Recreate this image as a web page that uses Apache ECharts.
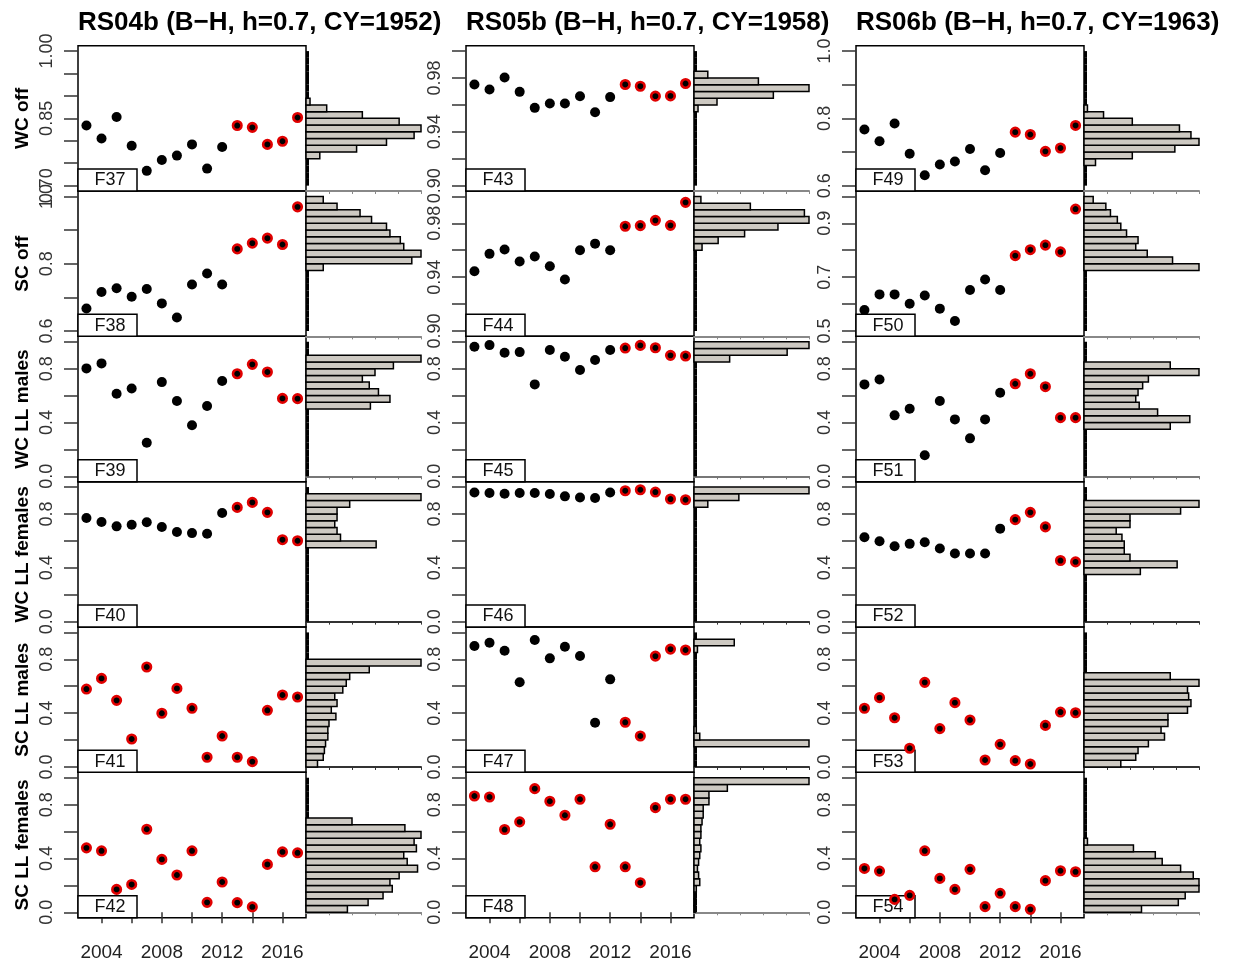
<!DOCTYPE html>
<html>
<head>
<meta charset="utf-8">
<script src="https://cdn.jsdelivr.net/npm/echarts@6/dist/echarts.min.js"></script>
<style>
html, body { margin: 0; padding: 0; background: #fff; }
#main { width: 1238px; height: 968px; }
</style>
</head>
<body>
<div id="main"></div>
<script>
// x values shared by every panel
var years = [2003, 2004, 2005, 2006, 2007, 2008, 2009, 2010, 2011, 2012, 2013, 2014, 2015, 2016, 2017];

var stockTitles = ['RS04b (B\u2212H, h=0.7, CY=1952)', 'RS05b (B\u2212H, h=0.7, CY=1958)', 'RS06b (B\u2212H, h=0.7, CY=1963)'];
var rowNames = ['WC off', 'SC off', 'WC LL males', 'WC LL females', 'SC LL males', 'SC LL females'];
var panelIds = [
  ['F37', 'F38', 'F39', 'F40', 'F41', 'F42'],
  ['F43', 'F44', 'F45', 'F46', 'F47', 'F48'],
  ['F49', 'F50', 'F51', 'F52', 'F53', 'F54']
];

// yearly values (dots)
var F37 = [0.834, 0.805, 0.853, 0.789, 0.733, 0.757, 0.767, 0.792, 0.738, 0.786, 0.834, 0.830, 0.792, 0.799, 0.852];
var F38 = [0.667, 0.716, 0.727, 0.702, 0.725, 0.682, 0.640, 0.738, 0.771, 0.738, 0.844, 0.861, 0.876, 0.857, 0.969];
var F39 = [0.802, 0.839, 0.614, 0.653, 0.250, 0.700, 0.559, 0.379, 0.522, 0.708, 0.762, 0.832, 0.775, 0.579, 0.577];
var F40 = [0.770, 0.740, 0.708, 0.720, 0.738, 0.703, 0.666, 0.658, 0.653, 0.807, 0.849, 0.886, 0.812, 0.609, 0.601];
var F41 = [0.579, 0.658, 0.495, 0.208, 0.743, 0.399, 0.584, 0.436, 0.072, 0.230, 0.072, 0.040, 0.421, 0.535, 0.520];
var F42 = [0.479, 0.457, 0.170, 0.207, 0.617, 0.393, 0.277, 0.457, 0.074, 0.225, 0.072, 0.040, 0.356, 0.449, 0.442];
var F43 = [0.9752, 0.9715, 0.9804, 0.9697, 0.9578, 0.9610, 0.9610, 0.9665, 0.9546, 0.9658, 0.9752, 0.9739, 0.9665, 0.9667, 0.9759];
var F44 = [0.9444, 0.9573, 0.9605, 0.9516, 0.9553, 0.9481, 0.9383, 0.9600, 0.9649, 0.9600, 0.9778, 0.9783, 0.9822, 0.9785, 0.9956];
var F45 = [0.963, 0.975, 0.918, 0.923, 0.683, 0.938, 0.889, 0.790, 0.864, 0.938, 0.953, 0.973, 0.955, 0.899, 0.894];
var F46 = [0.960, 0.956, 0.951, 0.956, 0.956, 0.948, 0.931, 0.923, 0.919, 0.960, 0.973, 0.980, 0.963, 0.911, 0.906];
var F47 = [0.899, 0.923, 0.864, 0.629, 0.943, 0.807, 0.894, 0.824, 0.329, 0.651, 0.332, 0.230, 0.824, 0.876, 0.869];
var F48 = [0.864, 0.857, 0.615, 0.672, 0.919, 0.825, 0.721, 0.840, 0.338, 0.654, 0.338, 0.220, 0.778, 0.840, 0.840];
var F49 = [0.767, 0.732, 0.785, 0.695, 0.631, 0.663, 0.672, 0.709, 0.646, 0.697, 0.759, 0.752, 0.702, 0.712, 0.779];
var F50 = [0.578, 0.636, 0.636, 0.601, 0.632, 0.583, 0.537, 0.652, 0.691, 0.652, 0.780, 0.802, 0.819, 0.794, 0.953];
var F51 = [0.683, 0.720, 0.453, 0.502, 0.156, 0.559, 0.423, 0.282, 0.423, 0.621, 0.688, 0.762, 0.666, 0.436, 0.436];
var F52 = [0.627, 0.598, 0.560, 0.578, 0.590, 0.543, 0.506, 0.506, 0.506, 0.691, 0.758, 0.812, 0.704, 0.454, 0.444];
var F53 = [0.436, 0.515, 0.366, 0.139, 0.629, 0.285, 0.478, 0.349, 0.052, 0.168, 0.047, 0.022, 0.309, 0.408, 0.403];
var F54 = [0.326, 0.306, 0.096, 0.126, 0.457, 0.252, 0.170, 0.319, 0.042, 0.141, 0.042, 0.022, 0.235, 0.309, 0.301];

// first year drawn with a red ring, per column and row
var redFrom = [
  [2013, 2013, 2013, 2013, 2003, 2003],
  [2013, 2013, 2013, 2013, 2013, 2003],
  [2013, 2013, 2013, 2013, 2003, 2003]
];

// side histograms: 20 bins over the panel's y limits, bottom bin first, longest bar = 1
var H37 = [0, 0, 0, 0, 0.12, 0.44, 0.70, 0.94, 1.00, 0.81, 0.49, 0.18, 0.035, 0, 0, 0, 0, 0, 0, 0];
var H38 = [0, 0, 0, 0, 0, 0, 0, 0, 0, 0.15, 0.92, 1.00, 0.85, 0.82, 0.73, 0.70, 0.57, 0.47, 0.27, 0.15];
var H39 = [0, 0, 0, 0, 0, 0, 0, 0, 0, 0, 0.56, 0.73, 0.63, 0.55, 0.49, 0.60, 0.76, 1.00, 0, 0];
var H40 = [0, 0, 0, 0, 0, 0, 0, 0, 0, 0, 0, 0.61, 0.30, 0.27, 0.25, 0.27, 0.27, 0.38, 1.00, 0];
var H41 = [0.10, 0.15, 0.16, 0.17, 0.19, 0.19, 0.20, 0.26, 0.22, 0.27, 0.25, 0.32, 0.35, 0.38, 0.55, 1.00, 0, 0, 0, 0];
var H42 = [0.36, 0.54, 0.67, 0.75, 0.73, 0.81, 0.97, 0.88, 0.85, 0.96, 0.94, 1.00, 0.86, 0.40, 0, 0, 0, 0, 0, 0];
var H43 = [0, 0, 0, 0, 0, 0, 0, 0, 0, 0, 0, 0.035, 0.20, 0.69, 1.00, 0.56, 0.12, 0, 0, 0];
var H44 = [0, 0, 0, 0, 0, 0, 0, 0, 0, 0, 0, 0, 0.07, 0.21, 0.44, 0.73, 1.00, 0.96, 0.49, 0.06];
var H45 = [0, 0, 0, 0, 0, 0, 0, 0, 0, 0, 0, 0, 0, 0, 0, 0, 0, 0.31, 0.81, 1.00];
var H46 = [0, 0, 0, 0, 0, 0, 0, 0, 0, 0, 0, 0, 0, 0, 0, 0, 0, 0.12, 0.39, 1.00];
var H47 = [0, 0, 0, 1.00, 0.05, 0.02, 0, 0, 0, 0, 0, 0, 0, 0, 0, 0, 0, 0.03, 0.35, 0];
var H48 = [0.01, 0.01, 0.01, 0.02, 0.05, 0.04, 0.03, 0.04, 0.05, 0.06, 0.05, 0.06, 0.06, 0.07, 0.08, 0.08, 0.13, 0.13, 0.29, 1.00];
var H49 = [0, 0, 0, 0.10, 0.42, 0.79, 1.00, 0.93, 0.83, 0.42, 0.17, 0.03, 0, 0, 0, 0, 0, 0, 0, 0];
var H50 = [0, 0, 0, 0, 0, 0, 0, 0, 0, 1.00, 0.77, 0.55, 0.45, 0.47, 0.37, 0.32, 0.29, 0.23, 0.19, 0.08];
var H51 = [0, 0, 0, 0, 0, 0, 0, 0.75, 0.92, 0.64, 0.48, 0.45, 0.47, 0.51, 0.56, 1.00, 0.75, 0, 0, 0];
var H52 = [0, 0, 0, 0, 0, 0, 0, 0.49, 0.81, 0.40, 0.35, 0.35, 0.33, 0.28, 0.40, 0.40, 0.84, 1.00, 0, 0];
var H53 = [0.32, 0.45, 0.47, 0.56, 0.70, 0.67, 0.73, 0.73, 0.90, 0.93, 0.91, 0.90, 1.00, 0.75, 0, 0, 0, 0, 0, 0];
var H54 = [0.50, 0.82, 0.88, 1.00, 1.00, 0.95, 0.84, 0.68, 0.62, 0.43, 0.03, 0, 0, 0, 0, 0, 0, 0, 0, 0];

var dots = { F37: F37, F38: F38, F39: F39, F40: F40, F41: F41, F42: F42, F43: F43, F44: F44, F45: F45,
  F46: F46, F47: F47, F48: F48, F49: F49, F50: F50, F51: F51, F52: F52, F53: F53, F54: F54 };
var hists = { F37: H37, F38: H38, F39: H39, F40: H40, F41: H41, F42: H42, F43: H43, F44: H44, F45: H45,
  F46: H46, F47: H47, F48: H48, F49: H49, F50: H50, F51: H51, F52: H52, F53: H53, F54: H54 };

// y scales: limits, tick marks, labelled ticks, decimals
var scaleA = { lim: [0.7, 1.0], ticks: [0.70, 0.75, 0.80, 0.85, 0.90, 0.95, 1.00], labels: [0.70, 0.85, 1.00], dec: 2 };
var scaleB = { lim: [0.6, 1.0], ticks: [0.6, 0.7, 0.8, 0.9, 1.0], labels: [0.6, 0.8, 1.0], dec: 1 };
var scaleC = { lim: [0, 1], ticks: [0, 0.2, 0.4, 0.6, 0.8, 1.0], labels: [0, 0.4, 0.8], dec: 1 };
var scaleD = { lim: [0.9, 1.0], ticks: [0.90, 0.92, 0.94, 0.96, 0.98, 1.00], labels: [0.90, 0.94, 0.98], dec: 2 };
var scaleE = { lim: [0.5, 1.0], ticks: [0.5, 0.6, 0.7, 0.8, 0.9, 1.0], labels: [0.5, 0.7, 0.9], dec: 1 };
var scales = [
  [scaleA, scaleB, scaleC, scaleC, scaleC, scaleC],
  [scaleD, scaleD, scaleC, scaleC, scaleC, scaleC],
  [scaleB, scaleE, scaleC, scaleC, scaleC, scaleC]
];

var xTicks = [2004, 2006, 2008, 2010, 2012, 2014, 2016];
var xLabels = [2004, 2008, 2012, 2016];

var FONT = 'Liberation Sans, Arial, sans-serif';
var colLeft = [78, 466, 856];
var scatW = 228, histW = 115, top0 = 45.7, rowH = 145.33;
var histLine = ['#888', '#888', '#777', '#333', '#333', '#888'];

function pad(lim) {
  var r = lim[1] - lim[0];
  return [lim[0] - 0.04 * r, lim[1] + 0.04 * r];
}

// one histogram bin: a thick base stroke plus the bar itself
function histItem(params, api) {
  var a = api.coord([0, api.value(1)]);
  var b = api.coord([api.value(2), api.value(0)]);
  var kids = [{
    type: 'line',
    shape: { x1: a[0] + 1.5, y1: a[1], x2: a[0] + 1.5, y2: b[1] },
    style: { stroke: '#000', lineWidth: 3 }
  }];
  if (b[0] - a[0] > 0.5) {
    kids.push({
      type: 'rect',
      shape: { x: a[0], y: a[1], width: b[0] - a[0], height: b[1] - a[1] },
      style: { fill: '#cdc9c2', stroke: '#000', lineWidth: 1.5 }
    });
  }
  return { type: 'group', children: kids };
}

function labelFmt(dec) {
  return function (v) { return Number(v).toFixed(dec); };
}

function buildOption() {
  var grids = [], xAxes = [], yAxes = [], series = [], graphics = [];
  for (var c = 0; c < 3; c++) {
    for (var r = 0; r < 6; r++) {
      var id = panelIds[c][r];
      var sc = scales[c][r];
      var yr = pad(sc.lim);
      var rowTop = top0 + r * rowH;
      var bottomRow = r === 5;
      var g = grids.length;

      // scatter panel
      grids.push({ left: colLeft[c], top: rowTop, width: scatW, height: rowH, show: true,
        borderColor: '#000', borderWidth: 1.5 });
      xAxes.push({
        type: 'value', gridIndex: g, min: 2002.44, max: 2017.56,
        axisLine: { show: false }, splitLine: { show: false },
        axisTick: { show: bottomRow, customValues: xTicks.slice(), length: 11, lineStyle: { color: '#333', width: 1.5 } },
        axisLabel: { show: bottomRow, customValues: xLabels.slice(), margin: 26, fontSize: 19, color: '#222',
          fontFamily: FONT, formatter: labelFmt(0) }
      });
      var ya = {
        type: 'value', gridIndex: g, min: yr[0], max: yr[1],
        axisLine: { show: false }, splitLine: { show: false },
        axisTick: { show: true, customValues: sc.ticks.slice(), length: 14, lineStyle: { color: '#333', width: 1.5 } },
        axisLabel: { show: true, customValues: sc.labels.slice(), rotate: 90, margin: 22, fontSize: 18, color: '#333',
          fontFamily: FONT, formatter: labelFmt(sc.dec) }
      };
      if (c === 0) {
        ya.name = rowNames[r];
        ya.nameLocation = 'middle';
        ya.nameGap = 46;
        ya.nameRotate = 90;
        ya.nameTextStyle = { fontSize: 19, fontWeight: 'bold', color: '#000', fontFamily: FONT };
      }
      yAxes.push(ya);

      var black = [], red = [];
      for (var i = 0; i < years.length; i++) {
        var pt = [years[i], dots[id][i]];
        if (years[i] >= redFrom[c][r]) red.push(pt); else black.push(pt);
      }
      series.push({ type: 'scatter', xAxisIndex: g, yAxisIndex: g, data: black, z: 5,
        symbolSize: 10, itemStyle: { color: '#000', opacity: 1 } });
      series.push({ type: 'scatter', xAxisIndex: g, yAxisIndex: g, data: red, z: 5,
        symbolSize: 8.5, itemStyle: { color: '#000', borderColor: '#e00000', borderWidth: 2.6, opacity: 1 } });

      // panel tag box
      graphics.push({ type: 'rect', z: 1, shape: { x: colLeft[c], y: rowTop + rowH - 22, width: 59, height: 22 },
        style: { fill: '#fff', stroke: '#000', lineWidth: 1.5 } });
      graphics.push({ type: 'text', z: 1, style: { text: id, x: colLeft[c] + 32, y: rowTop + rowH - 10.5,
        textAlign: 'center', textVerticalAlign: 'middle', font: '18px ' + FONT, fill: '#111' } });

      // side histogram
      var h = grids.length;
      grids.push({ left: colLeft[c] + scatW, top: rowTop, width: histW, height: rowH, show: false });
      xAxes.push({
        type: 'value', gridIndex: h, min: 0, max: 1,
        axisLine: { show: true, lineStyle: { color: histLine[r], width: 2 } },
        axisTick: { show: true, customValues: [0.2, 0.4, 0.6, 0.8, 1.0], length: 3, lineStyle: { color: histLine[r] } },
        axisLabel: { show: false }, splitLine: { show: false }
      });
      yAxes.push({ type: 'value', gridIndex: h, min: yr[0], max: yr[1], show: false });
      var w = (sc.lim[1] - sc.lim[0]) / 20;
      var bins = [];
      for (var k = 0; k < 20; k++) {
        bins.push([sc.lim[0] + k * w, sc.lim[0] + (k + 1) * w, hists[id][k]]);
      }
      series.push({ type: 'custom', xAxisIndex: h, yAxisIndex: h, data: bins, renderItem: histItem,
        encode: { x: 2, y: [0, 1] }, z: 3 });
    }
  }

  var titles = stockTitles.map(function (t, c) {
    return { text: t, left: colLeft[c], top: 10, padding: 0,
      textStyle: { fontSize: 26, fontWeight: 'bold', color: '#000', fontFamily: FONT } };
  });

  return {
    backgroundColor: '#fff',
    animation: false,
    title: titles,
    grid: grids,
    xAxis: xAxes,
    yAxis: yAxes,
    series: series,
    graphic: { elements: graphics }
  };
}

var myChart = echarts.init(document.getElementById('main'));
myChart.setOption(buildOption());
</script>
</body>
</html>
